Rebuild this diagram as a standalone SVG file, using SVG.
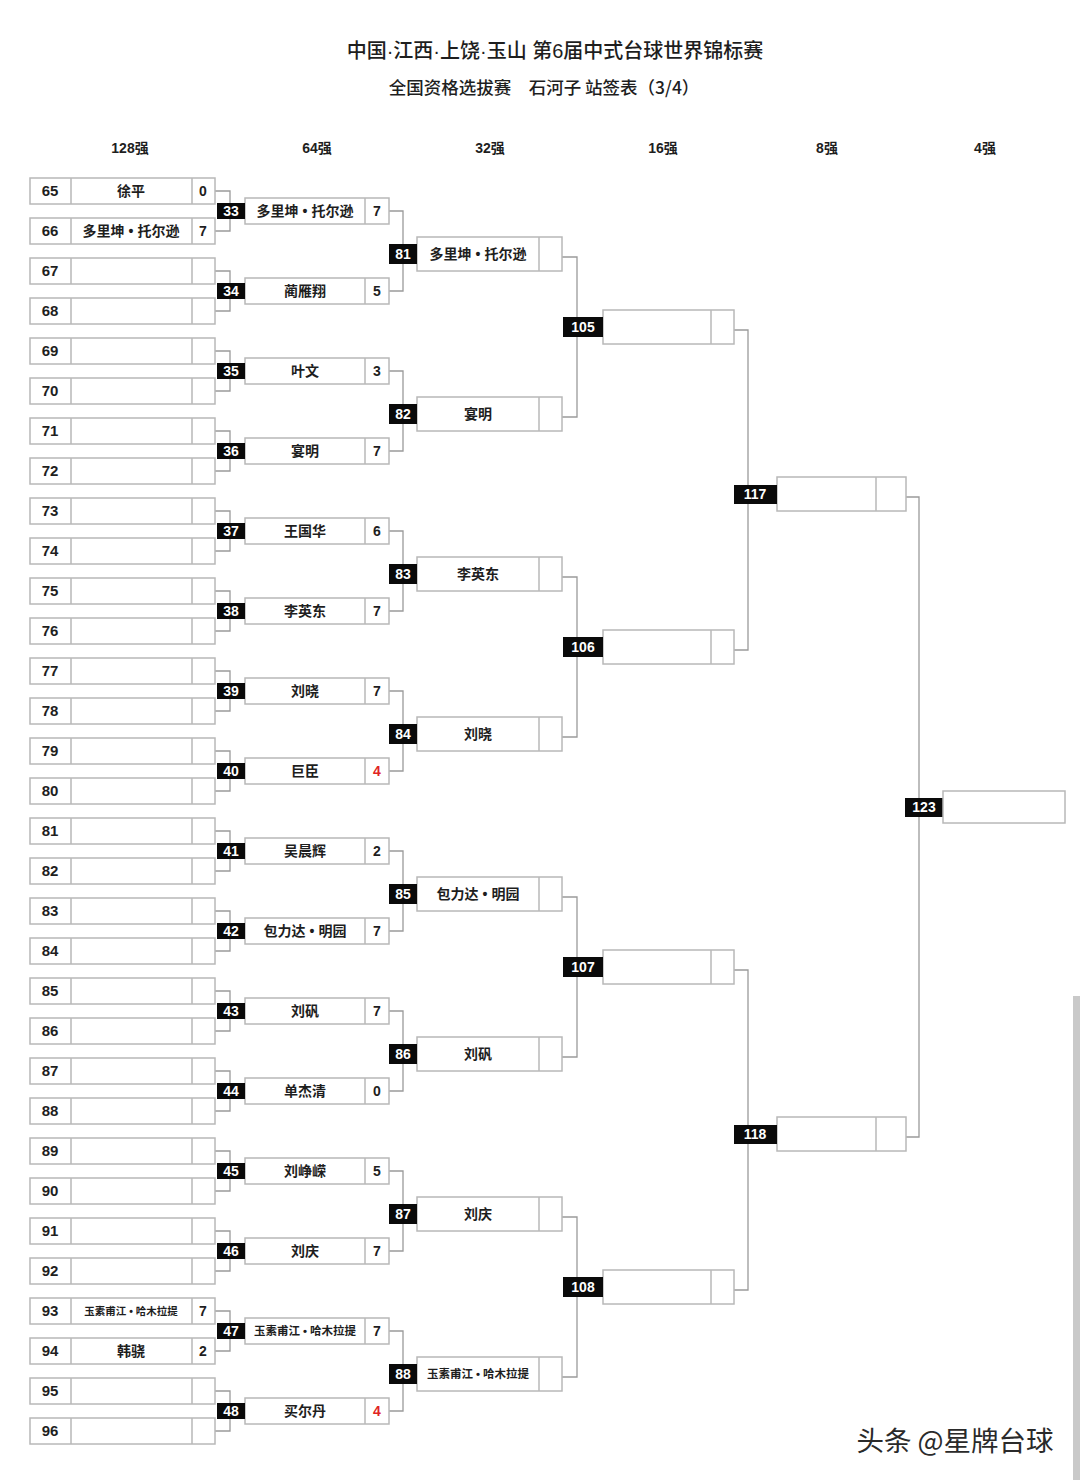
<svg xmlns="http://www.w3.org/2000/svg" width="1080" height="1480" viewBox="0 0 1080 1480">
<style>
text{font-family:"Liberation Sans","Noto Sans CJK SC",sans-serif;font-weight:bold;text-anchor:middle;fill:#1e1e1e}
.box{fill:#fff;stroke:#b8b8b8;stroke-width:1.5}
.dv{stroke:#b8b8b8;stroke-width:1.5}
.conn{fill:none;stroke:#9a9a9a;stroke-width:1.3}
.lab{fill:#0a0a0a}
.lt{fill:#fff;font-size:14px}
.seed{font-size:15px}
.nm{font-size:14px}
.sm{font-size:10.5px}
.sc{font-size:14px}
.red{fill:#e02424}
.hd{font-size:14px}
</style>
<rect width="1080" height="1480" fill="#fff"/>
<g id="title">
<text x="555" y="58" style="font-size:20px;font-family:'Liberation Sans','Noto Sans CJK SC',sans-serif;font-weight:500">中国·江西·上饶·玉山 第6届中式台球世界锦标赛</text>
<text x="544" y="94" style="font-size:17.5px;font-family:'Noto Sans CJK SC',sans-serif;font-weight:500">全国资格选拔赛　石河子 站签表（3/4）</text>
</g>
<g id="headers">
<text class="hd" x="130" y="153">128强</text>
<text class="hd" x="317" y="153">64强</text>
<text class="hd" x="490" y="153">32强</text>
<text class="hd" x="663" y="153">16强</text>
<text class="hd" x="827" y="153">8强</text>
<text class="hd" x="985" y="153">4强</text>
</g>
<g id="connectors">
<path class="conn" d="M215 191H230V231H215M215 271H230V311H215M215 351H230V391H215M215 431H230V471H215M215 511H230V551H215M215 591H230V631H215M215 671H230V711H215M215 751H230V791H215M215 831H230V871H215M215 911H230V951H215M215 991H230V1031H215M215 1071H230V1111H215M215 1151H230V1191H215M215 1231H230V1271H215M215 1311H230V1351H215M215 1391H230V1431H215"/>
<path class="conn" d="M389 211H403V291H389M389 371H403V451H389M389 531H403V611H389M389 691H403V771H389M389 851H403V931H389M389 1011H403V1091H389M389 1171H403V1251H389M389 1331H403V1411H389"/>
<path class="conn" d="M562 257H577V417H562M562 577H577V737H562M562 897H577V1057H562M562 1217H577V1377H562"/>
<path class="conn" d="M734 330H748V650H734M734 970H748V1290H734"/>
<path class="conn" d="M906 497H919V1137H906"/>
</g>
<g id="r128">
<g id="s65"><rect class="box" x="30" y="178" width="185" height="26"/><path class="dv" d="M71 178V204M192 178V204"/><text class="seed" x="50" y="196">65</text><text class="nm" x="131" y="196">徐平</text><text class="sc" x="203" y="196">0</text></g>
<g id="s66"><rect class="box" x="30" y="218" width="185" height="26"/><path class="dv" d="M71 218V244M192 218V244"/><text class="seed" x="50" y="236">66</text><text class="nm" x="131" y="236">多里坤<tspan dx="4">•</tspan><tspan dx="4">托尔逊</tspan></text><text class="sc" x="203" y="236">7</text></g>
<g id="s67"><rect class="box" x="30" y="258" width="185" height="26"/><path class="dv" d="M71 258V284M192 258V284"/><text class="seed" x="50" y="276">67</text></g>
<g id="s68"><rect class="box" x="30" y="298" width="185" height="26"/><path class="dv" d="M71 298V324M192 298V324"/><text class="seed" x="50" y="316">68</text></g>
<g id="s69"><rect class="box" x="30" y="338" width="185" height="26"/><path class="dv" d="M71 338V364M192 338V364"/><text class="seed" x="50" y="356">69</text></g>
<g id="s70"><rect class="box" x="30" y="378" width="185" height="26"/><path class="dv" d="M71 378V404M192 378V404"/><text class="seed" x="50" y="396">70</text></g>
<g id="s71"><rect class="box" x="30" y="418" width="185" height="26"/><path class="dv" d="M71 418V444M192 418V444"/><text class="seed" x="50" y="436">71</text></g>
<g id="s72"><rect class="box" x="30" y="458" width="185" height="26"/><path class="dv" d="M71 458V484M192 458V484"/><text class="seed" x="50" y="476">72</text></g>
<g id="s73"><rect class="box" x="30" y="498" width="185" height="26"/><path class="dv" d="M71 498V524M192 498V524"/><text class="seed" x="50" y="516">73</text></g>
<g id="s74"><rect class="box" x="30" y="538" width="185" height="26"/><path class="dv" d="M71 538V564M192 538V564"/><text class="seed" x="50" y="556">74</text></g>
<g id="s75"><rect class="box" x="30" y="578" width="185" height="26"/><path class="dv" d="M71 578V604M192 578V604"/><text class="seed" x="50" y="596">75</text></g>
<g id="s76"><rect class="box" x="30" y="618" width="185" height="26"/><path class="dv" d="M71 618V644M192 618V644"/><text class="seed" x="50" y="636">76</text></g>
<g id="s77"><rect class="box" x="30" y="658" width="185" height="26"/><path class="dv" d="M71 658V684M192 658V684"/><text class="seed" x="50" y="676">77</text></g>
<g id="s78"><rect class="box" x="30" y="698" width="185" height="26"/><path class="dv" d="M71 698V724M192 698V724"/><text class="seed" x="50" y="716">78</text></g>
<g id="s79"><rect class="box" x="30" y="738" width="185" height="26"/><path class="dv" d="M71 738V764M192 738V764"/><text class="seed" x="50" y="756">79</text></g>
<g id="s80"><rect class="box" x="30" y="778" width="185" height="26"/><path class="dv" d="M71 778V804M192 778V804"/><text class="seed" x="50" y="796">80</text></g>
<g id="s81"><rect class="box" x="30" y="818" width="185" height="26"/><path class="dv" d="M71 818V844M192 818V844"/><text class="seed" x="50" y="836">81</text></g>
<g id="s82"><rect class="box" x="30" y="858" width="185" height="26"/><path class="dv" d="M71 858V884M192 858V884"/><text class="seed" x="50" y="876">82</text></g>
<g id="s83"><rect class="box" x="30" y="898" width="185" height="26"/><path class="dv" d="M71 898V924M192 898V924"/><text class="seed" x="50" y="916">83</text></g>
<g id="s84"><rect class="box" x="30" y="938" width="185" height="26"/><path class="dv" d="M71 938V964M192 938V964"/><text class="seed" x="50" y="956">84</text></g>
<g id="s85"><rect class="box" x="30" y="978" width="185" height="26"/><path class="dv" d="M71 978V1004M192 978V1004"/><text class="seed" x="50" y="996">85</text></g>
<g id="s86"><rect class="box" x="30" y="1018" width="185" height="26"/><path class="dv" d="M71 1018V1044M192 1018V1044"/><text class="seed" x="50" y="1036">86</text></g>
<g id="s87"><rect class="box" x="30" y="1058" width="185" height="26"/><path class="dv" d="M71 1058V1084M192 1058V1084"/><text class="seed" x="50" y="1076">87</text></g>
<g id="s88"><rect class="box" x="30" y="1098" width="185" height="26"/><path class="dv" d="M71 1098V1124M192 1098V1124"/><text class="seed" x="50" y="1116">88</text></g>
<g id="s89"><rect class="box" x="30" y="1138" width="185" height="26"/><path class="dv" d="M71 1138V1164M192 1138V1164"/><text class="seed" x="50" y="1156">89</text></g>
<g id="s90"><rect class="box" x="30" y="1178" width="185" height="26"/><path class="dv" d="M71 1178V1204M192 1178V1204"/><text class="seed" x="50" y="1196">90</text></g>
<g id="s91"><rect class="box" x="30" y="1218" width="185" height="26"/><path class="dv" d="M71 1218V1244M192 1218V1244"/><text class="seed" x="50" y="1236">91</text></g>
<g id="s92"><rect class="box" x="30" y="1258" width="185" height="26"/><path class="dv" d="M71 1258V1284M192 1258V1284"/><text class="seed" x="50" y="1276">92</text></g>
<g id="s93"><rect class="box" x="30" y="1298" width="185" height="26"/><path class="dv" d="M71 1298V1324M192 1298V1324"/><text class="seed" x="50" y="1316">93</text><text class="sm" x="131" y="1315">玉素甫江<tspan dx="3">•</tspan><tspan dx="3">哈木拉提</tspan></text><text class="sc" x="203" y="1316">7</text></g>
<g id="s94"><rect class="box" x="30" y="1338" width="185" height="26"/><path class="dv" d="M71 1338V1364M192 1338V1364"/><text class="seed" x="50" y="1356">94</text><text class="nm" x="131" y="1356">韩骁</text><text class="sc" x="203" y="1356">2</text></g>
<g id="s95"><rect class="box" x="30" y="1378" width="185" height="26"/><path class="dv" d="M71 1378V1404M192 1378V1404"/><text class="seed" x="50" y="1396">95</text></g>
<g id="s96"><rect class="box" x="30" y="1418" width="185" height="26"/><path class="dv" d="M71 1418V1444M192 1418V1444"/><text class="seed" x="50" y="1436">96</text></g>
</g>
<g id="r64">
<g id="m33"><rect class="box" x="245" y="198" width="144" height="26"/><path class="dv" d="M365 198V224"/><rect class="lab" x="217" y="203" width="28" height="16"/><text class="lt" x="231" y="216">33</text><text class="nm" x="305" y="216">多里坤<tspan dx="4">•</tspan><tspan dx="4">托尔逊</tspan></text><text class="sc" x="377" y="216">7</text></g>
<g id="m34"><rect class="box" x="245" y="278" width="144" height="26"/><path class="dv" d="M365 278V304"/><rect class="lab" x="217" y="283" width="28" height="16"/><text class="lt" x="231" y="296">34</text><text class="nm" x="305" y="296">蔺雁翔</text><text class="sc" x="377" y="296">5</text></g>
<g id="m35"><rect class="box" x="245" y="358" width="144" height="26"/><path class="dv" d="M365 358V384"/><rect class="lab" x="217" y="363" width="28" height="16"/><text class="lt" x="231" y="376">35</text><text class="nm" x="305" y="376">叶文</text><text class="sc" x="377" y="376">3</text></g>
<g id="m36"><rect class="box" x="245" y="438" width="144" height="26"/><path class="dv" d="M365 438V464"/><rect class="lab" x="217" y="443" width="28" height="16"/><text class="lt" x="231" y="456">36</text><text class="nm" x="305" y="456">宴明</text><text class="sc" x="377" y="456">7</text></g>
<g id="m37"><rect class="box" x="245" y="518" width="144" height="26"/><path class="dv" d="M365 518V544"/><rect class="lab" x="217" y="523" width="28" height="16"/><text class="lt" x="231" y="536">37</text><text class="nm" x="305" y="536">王国华</text><text class="sc" x="377" y="536">6</text></g>
<g id="m38"><rect class="box" x="245" y="598" width="144" height="26"/><path class="dv" d="M365 598V624"/><rect class="lab" x="217" y="603" width="28" height="16"/><text class="lt" x="231" y="616">38</text><text class="nm" x="305" y="616">李英东</text><text class="sc" x="377" y="616">7</text></g>
<g id="m39"><rect class="box" x="245" y="678" width="144" height="26"/><path class="dv" d="M365 678V704"/><rect class="lab" x="217" y="683" width="28" height="16"/><text class="lt" x="231" y="696">39</text><text class="nm" x="305" y="696">刘晓</text><text class="sc" x="377" y="696">7</text></g>
<g id="m40"><rect class="box" x="245" y="758" width="144" height="26"/><path class="dv" d="M365 758V784"/><rect class="lab" x="217" y="763" width="28" height="16"/><text class="lt" x="231" y="776">40</text><text class="nm" x="305" y="776">巨臣</text><text class="sc red" x="377" y="776">4</text></g>
<g id="m41"><rect class="box" x="245" y="838" width="144" height="26"/><path class="dv" d="M365 838V864"/><rect class="lab" x="217" y="843" width="28" height="16"/><text class="lt" x="231" y="856">41</text><text class="nm" x="305" y="856">吴晨辉</text><text class="sc" x="377" y="856">2</text></g>
<g id="m42"><rect class="box" x="245" y="918" width="144" height="26"/><path class="dv" d="M365 918V944"/><rect class="lab" x="217" y="923" width="28" height="16"/><text class="lt" x="231" y="936">42</text><text class="nm" x="305" y="936">包力达<tspan dx="4">•</tspan><tspan dx="4">明园</tspan></text><text class="sc" x="377" y="936">7</text></g>
<g id="m43"><rect class="box" x="245" y="998" width="144" height="26"/><path class="dv" d="M365 998V1024"/><rect class="lab" x="217" y="1003" width="28" height="16"/><text class="lt" x="231" y="1016">43</text><text class="nm" x="305" y="1016">刘矾</text><text class="sc" x="377" y="1016">7</text></g>
<g id="m44"><rect class="box" x="245" y="1078" width="144" height="26"/><path class="dv" d="M365 1078V1104"/><rect class="lab" x="217" y="1083" width="28" height="16"/><text class="lt" x="231" y="1096">44</text><text class="nm" x="305" y="1096">单杰清</text><text class="sc" x="377" y="1096">0</text></g>
<g id="m45"><rect class="box" x="245" y="1158" width="144" height="26"/><path class="dv" d="M365 1158V1184"/><rect class="lab" x="217" y="1163" width="28" height="16"/><text class="lt" x="231" y="1176">45</text><text class="nm" x="305" y="1176">刘峥嵘</text><text class="sc" x="377" y="1176">5</text></g>
<g id="m46"><rect class="box" x="245" y="1238" width="144" height="26"/><path class="dv" d="M365 1238V1264"/><rect class="lab" x="217" y="1243" width="28" height="16"/><text class="lt" x="231" y="1256">46</text><text class="nm" x="305" y="1256">刘庆</text><text class="sc" x="377" y="1256">7</text></g>
<g id="m47"><rect class="box" x="245" y="1318" width="144" height="26"/><path class="dv" d="M365 1318V1344"/><rect class="lab" x="217" y="1323" width="28" height="16"/><text class="lt" x="231" y="1336">47</text><text class="sm" x="305" y="1335" style="font-size:11.5px">玉素甫江<tspan dx="3">•</tspan><tspan dx="3">哈木拉提</tspan></text><text class="sc" x="377" y="1336">7</text></g>
<g id="m48"><rect class="box" x="245" y="1398" width="144" height="26"/><path class="dv" d="M365 1398V1424"/><rect class="lab" x="217" y="1403" width="28" height="16"/><text class="lt" x="231" y="1416">48</text><text class="nm" x="305" y="1416">买尔丹</text><text class="sc red" x="377" y="1416">4</text></g>
</g>
<g id="r32">
<g id="m81"><rect class="box" x="417" y="237" width="145" height="34"/><path class="dv" d="M539 237V271"/><rect class="lab" x="389" y="244" width="28" height="20"/><text class="lt" x="403" y="259">81</text><text class="nm" x="478" y="259">多里坤<tspan dx="4">•</tspan><tspan dx="4">托尔逊</tspan></text></g>
<g id="m82"><rect class="box" x="417" y="397" width="145" height="34"/><path class="dv" d="M539 397V431"/><rect class="lab" x="389" y="404" width="28" height="20"/><text class="lt" x="403" y="419">82</text><text class="nm" x="478" y="419">宴明</text></g>
<g id="m83"><rect class="box" x="417" y="557" width="145" height="34"/><path class="dv" d="M539 557V591"/><rect class="lab" x="389" y="564" width="28" height="20"/><text class="lt" x="403" y="579">83</text><text class="nm" x="478" y="579">李英东</text></g>
<g id="m84"><rect class="box" x="417" y="717" width="145" height="34"/><path class="dv" d="M539 717V751"/><rect class="lab" x="389" y="724" width="28" height="20"/><text class="lt" x="403" y="739">84</text><text class="nm" x="478" y="739">刘晓</text></g>
<g id="m85"><rect class="box" x="417" y="877" width="145" height="34"/><path class="dv" d="M539 877V911"/><rect class="lab" x="389" y="884" width="28" height="20"/><text class="lt" x="403" y="899">85</text><text class="nm" x="478" y="899">包力达<tspan dx="4">•</tspan><tspan dx="4">明园</tspan></text></g>
<g id="m86"><rect class="box" x="417" y="1037" width="145" height="34"/><path class="dv" d="M539 1037V1071"/><rect class="lab" x="389" y="1044" width="28" height="20"/><text class="lt" x="403" y="1059">86</text><text class="nm" x="478" y="1059">刘矾</text></g>
<g id="m87"><rect class="box" x="417" y="1197" width="145" height="34"/><path class="dv" d="M539 1197V1231"/><rect class="lab" x="389" y="1204" width="28" height="20"/><text class="lt" x="403" y="1219">87</text><text class="nm" x="478" y="1219">刘庆</text></g>
<g id="m88"><rect class="box" x="417" y="1357" width="145" height="34"/><path class="dv" d="M539 1357V1391"/><rect class="lab" x="389" y="1364" width="28" height="20"/><text class="lt" x="403" y="1379">88</text><text class="sm" x="478" y="1378" style="font-size:11.5px">玉素甫江<tspan dx="3">•</tspan><tspan dx="3">哈木拉提</tspan></text></g>
</g>
<g id="r16">
<g id="m105"><rect class="box" x="603" y="310" width="131" height="34"/><path class="dv" d="M711 310V344"/><rect class="lab" x="563" y="317" width="40" height="20"/><text class="lt" x="583" y="332">105</text></g>
<g id="m106"><rect class="box" x="603" y="630" width="131" height="34"/><path class="dv" d="M711 630V664"/><rect class="lab" x="563" y="637" width="40" height="20"/><text class="lt" x="583" y="652">106</text></g>
<g id="m107"><rect class="box" x="603" y="950" width="131" height="34"/><path class="dv" d="M711 950V984"/><rect class="lab" x="563" y="957" width="40" height="20"/><text class="lt" x="583" y="972">107</text></g>
<g id="m108"><rect class="box" x="603" y="1270" width="131" height="34"/><path class="dv" d="M711 1270V1304"/><rect class="lab" x="563" y="1277" width="40" height="20"/><text class="lt" x="583" y="1292">108</text></g>
</g>
<g id="r8">
<g id="m117"><rect class="box" x="777" y="477" width="129" height="34"/><path class="dv" d="M876 477V511"/><rect class="lab" x="734" y="485" width="43" height="19"/><text class="lt" x="755" y="499">117</text></g>
<g id="m118"><rect class="box" x="777" y="1117" width="129" height="34"/><path class="dv" d="M876 1117V1151"/><rect class="lab" x="734" y="1125" width="43" height="19"/><text class="lt" x="755" y="1139">118</text></g>
</g>
<g id="r4">
<g id="m123"><rect class="lab" x="905" y="798" width="38" height="19"/><text class="lt" x="924" y="812">123</text><rect class="box" x="943" y="791" width="122" height="32"/></g>
</g>
<g id="watermark">
<text x="955" y="1451" style="font-size:27.5px;font-family:'Noto Sans CJK SC',sans-serif;font-weight:400;fill:#2a2a2a">头条 @星牌台球</text>
</g>
<rect x="1073" y="996" width="7" height="484" fill="#c9c9c9"/>
</svg>
